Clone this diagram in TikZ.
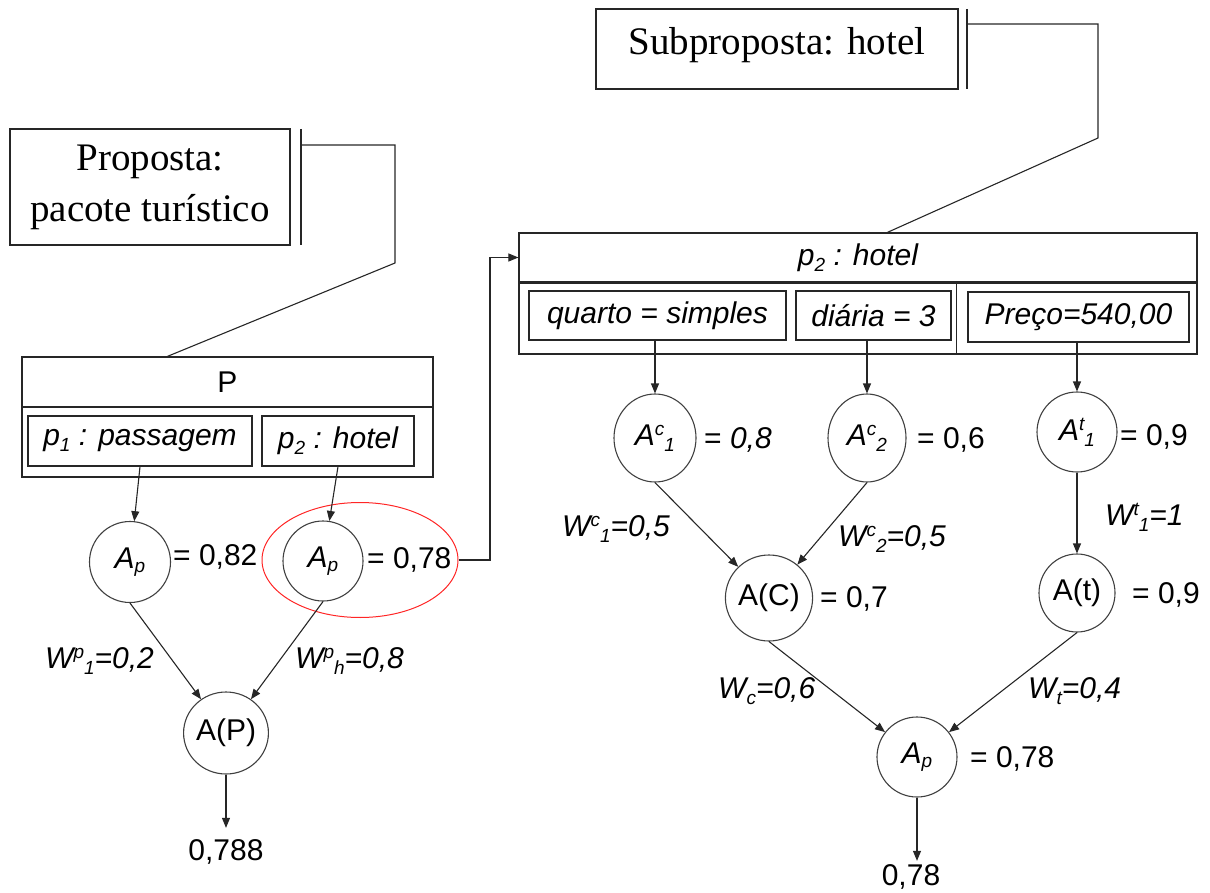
\documentclass[tikz,border=0pt]{standalone}
\usepackage{fontspec}
\setmainfont{Liberation Sans}
\newfontfamily\serifx{Liberation Serif}
\usetikzlibrary{arrows.meta,shapes.geometric,calc}

% small lowered / raised indices, set one after the other
\newcommand\subx[1]{\raisebox{-6pt}{\fontsize{19}{19}\selectfont #1}}
\newcommand\supx[1]{\raisebox{10pt}{\fontsize{19}{19}\selectfont #1}}

\tikzset{
  ln/.style={draw=black!85, line width=1.1pt},
  arr/.style={ln, -{Triangle[length=10pt,width=8pt]}},
  lbl/.style={font=\fontsize{30}{36}\selectfont, inner sep=0pt, anchor=base west},
  ilbl/.style={lbl, font=\fontsize{30}{36}\selectfont\itshape},
  box/.style={draw=black!85, line width=1.2pt, inner sep=0pt, font=\fontsize{30}{36}\selectfont},
  attr/.style={box, font=\fontsize{30}{36}\selectfont\itshape},
  val/.style={ellipse, draw=black!75, line width=1.1pt, inner sep=0pt, font=\fontsize{30}{36}\selectfont},
  title/.style={draw=black!85, line width=1.2pt, inner sep=0pt, font=\serifx\fontsize{39}{51}\selectfont},
  result/.style={font=\fontsize{30}{36}\selectfont, inner sep=0pt, anchor=base}
}

\begin{document}
\begin{tikzpicture}[x=1pt,y=-1pt]
\useasboundingbox (0,0) rectangle (1210,893);

% ---------- proposal: tour package ----------
\node[title, align=center, minimum width=280, minimum height=116] (tl) at (150,187) {Proposta:\\pacote turístico};
\coordinate (tlbt) at (301,129);
\coordinate (tlbb) at (301,245);
\draw[ln] (tlbt) -- (tlbb);

\node[box, minimum width=411, minimum height=50] (Ph) at (227.5,382) {P};
\node[box, minimum width=411, minimum height=70] (Pb) at (227.5,442) {};
\node[attr, minimum width=224, minimum height=50] (p1) at (140,441) {p\subx{1} : passagem};
\node[attr, minimum width=152, minimum height=50] (p2) at (338,441) {p\subx{2} : hotel};

\coordinate (tlk1) at (301,145);
\coordinate (tlk2) at (395,145);
\coordinate (tlk3) at (395,263);
\draw[ln] (tlk1) -- (tlk2) -- (tlk3) -- ($(Ph.north west)+(146,0)$);

\node[val, minimum width=81, minimum height=81] (Ap1) at (130,562) {\itshape A\raisebox{-4pt}{\fontsize{19}{19}\selectfont p}};
\node[val, minimum width=80, minimum height=80] (Ap2) at (323,561) {\itshape A\raisebox{-4pt}{\fontsize{19}{19}\selectfont p}};
\node[ellipse, draw=red!85!white, line width=1pt, minimum width=196, minimum height=115] (sel) at (360,560) {};
\node[val, minimum width=82, minimum height=82] (AP) at (226,733) {A(P)};
\node[result] (res1) at (226,860) {0,788};

\node[lbl] (e1) at (173,565) {= 0,82};
\node[lbl] (e2) at (367,568) {= 0,78};
\node[ilbl] (w1) at (45,668) {W\supx{p}\subx{1}=0,2};
\node[ilbl] (w2) at (295,668) {W\supx{p}\subx{h}=0,8};

\draw[arr] (p1.south) -- (Ap1);
\draw[arr] (p2.south) -- (Ap2);
\draw[arr] (Ap1.south) -- (AP);
\draw[arr] (Ap2.south) -- (AP);
\draw[arr, shorten >=11pt] (AP.south) -- (AP.south |- res1.north);

% ---------- sub-proposal: hotel ----------
\node[title, minimum width=362, minimum height=80, text depth=16pt] (tr) at (777,49) {Subproposta: hotel};
\coordinate (trbt) at (967,9);
\coordinate (trbb) at (967,89);
\draw[ln] (trbt) -- (trbb);

\node[attr, minimum width=678, minimum height=49] (hh) at (858,257.5) {p\subx{2} : hotel};
\node[box, minimum width=678, minimum height=72] (hb) at (858,318) {};
\draw[ln, line width=2.4pt] (hh.south west) -- (hh.south east);
\draw[ln] ($(hb.north west)+(438,0)$) -- ($(hb.south west)+(438,0)$);
\node[attr, minimum width=257, minimum height=49] (qa) at (657.5,315.5) {quarto = simples};
\node[attr, minimum width=155, minimum height=49] (di) at (873.5,315.5) {diária = 3};
\node[attr, minimum width=221, minimum height=50] (pr) at (1078.5,317) {Preço=540,00};

\coordinate (trk1) at (967,24);
\coordinate (trk2) at (1098,24);
\coordinate (trk3) at (1098,138);
\draw[ln] (trk1) -- (trk2) -- (trk3) -- ($(hh.north west)+(369,0)$);

% link from the selected hotel value to its detailed evaluation
\coordinate (j1) at (490,560);
\draw[arr] (sel.east) -- (j1) |- (hh.west);

\node[val, minimum width=82, minimum height=88] (c1) at (655,438) {\itshape A\supx{c}\subx{1}};
\node[val, minimum width=78, minimum height=88] (c2) at (867,438) {\itshape A\supx{c}\subx{2}};
\node[val, minimum width=80, minimum height=80] (t1) at (1077,432) {\itshape A\supx{t}\subx{1}};
\node[val, minimum width=84, minimum height=86] (AC) at (769,598) {A(C)};
\node[val, minimum width=76, minimum height=78] (At) at (1077,593) {A(t)};
\node[val, minimum width=80, minimum height=80] (Apr) at (917,757) {\itshape A\raisebox{-4pt}{\fontsize{19}{19}\selectfont p}};
\node[result] (res2) at (911,885) {0,78};

\node[lbl] (e3) at (704,448) {= \textit{0,8}};
\node[lbl] (e4) at (917,448) {= 0,6};
\node[lbl] (e5) at (1120,445) {= 0,9};
\node[lbl] (e6) at (820,607) {= 0,7};
\node[lbl] (e7) at (1132,603) {= 0,9};
\node[lbl] (e8) at (970,767) {= 0,78};
\node[ilbl] (w3) at (562,536) {W\supx{c}\subx{1}=0,5};
\node[ilbl] (w4) at (838,546) {W\supx{c}\subx{2}=0,5};
\node[ilbl] (w5) at (1105,525) {W\supx{t}\subx{1}=1};
\node[ilbl] (w6) at (718,698) {W\subx{c}=0,6};
\node[ilbl] (w7) at (1028,698) {W\subx{t}=0,4};

\draw[arr] (c1 |- qa.south) -- (c1.north);
\draw[arr] (c2 |- di.south) -- (c2.north);
\draw[arr] (t1 |- pr.south) -- (t1.north);
\draw[arr] (c1.south) -- (AC);
\draw[arr] (c2.south) -- (AC);
\draw[arr] (t1.south) -- (At.north);
\draw[arr] (AC.south) -- (Apr);
\draw[arr] (At.south) -- (Apr);
\draw[arr, shorten >=3pt] (Apr.south) -- (Apr.south |- res2.north);
\end{tikzpicture}
\end{document}
